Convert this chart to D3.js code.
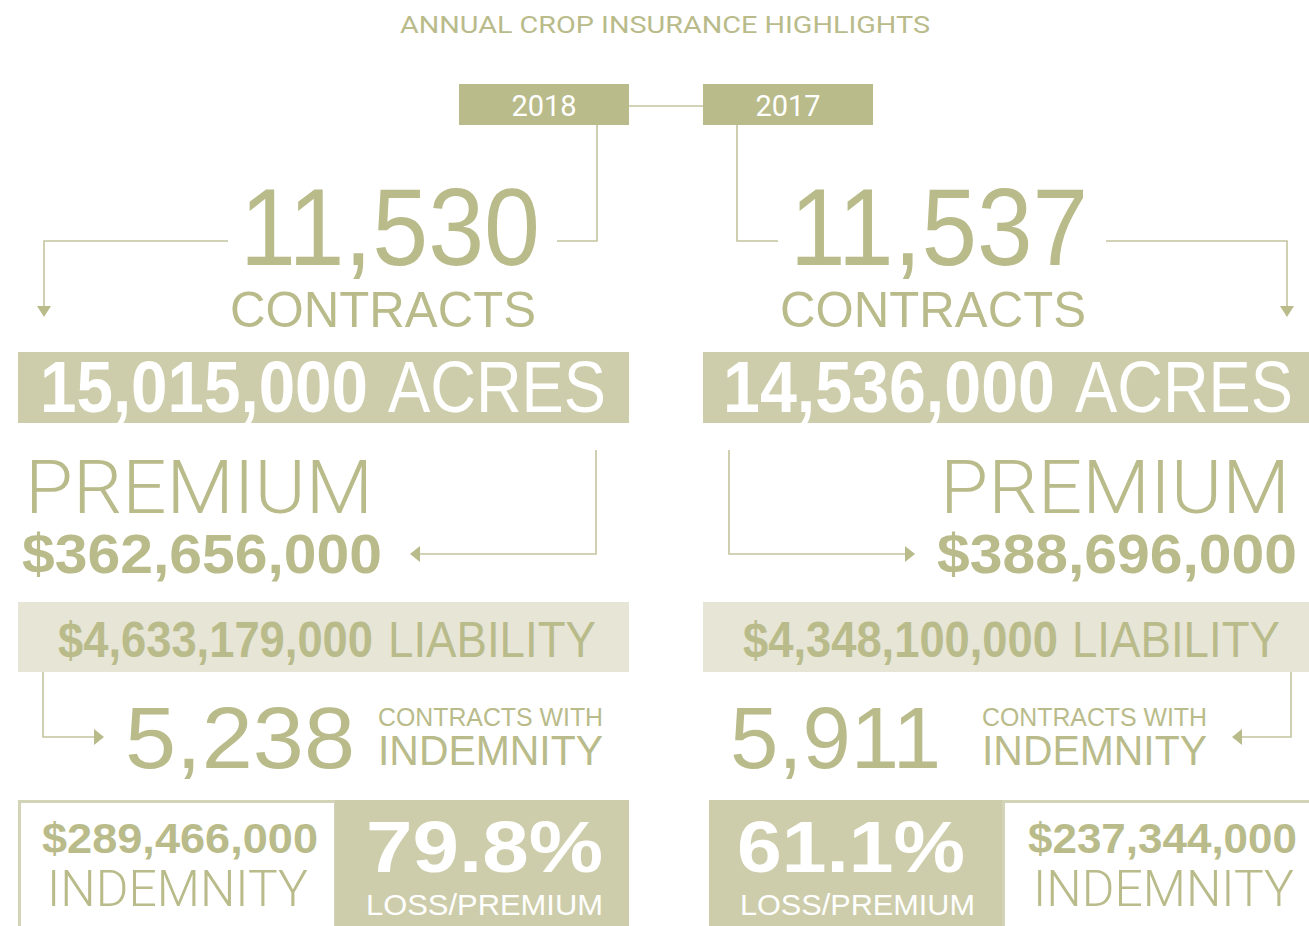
<!DOCTYPE html>
<html>
<head>
<meta charset="utf-8">
<script src="https://cdn.jsdelivr.net/npm/d3@7"></script>
<style>
  body { margin: 0; background: #fff; }
  svg { display: block; }
</style>
</head>
<body>
<div id="chart"></div>
<script>
// data
var title = "ANNUAL CROP INSURANCE HIGHLIGHTS";
var years = ["2018", "2017"];
var contracts = ["11,530", "11,537"];
var acres = ["15,015,000", "14,536,000"];
var premium = ["$362,656,000", "$388,696,000"];
var liability = ["$4,633,179,000", "$4,348,100,000"];
var indemContracts = ["5,238", "5,911"];
var indemnity = ["$289,466,000", "$237,344,000"];
var lossRatio = ["79.8%", "61.1%"];

var W = 1309, H = 926;
var olive = "#b9bb8a", mid = "#cdcdab", pale = "#e6e5d6", line = "#c4c59e";
var narrow = "'Liberation Sans Narrow', 'Liberation Sans', Arial, sans-serif";
var thin = "Roboto, 'Liberation Sans', sans-serif";

var svg = d3.select("#chart").append("svg")
    .attr("width", W)
    .attr("height", H);

// two columns, the right one runs past the page edge
var x = d3.scaleBand().domain(years).range([18, 1314]).paddingInner(0.108);
var bw = x.bandwidth();

function txt(s, o) {
  var t = svg.append("text")
      .attr("x", o.x).attr("y", o.y)
      .attr("font-family", o.family || narrow)
      .attr("font-size", o.size)
      .attr("font-weight", o.weight || 400)
      .attr("fill", o.fill || olive)
      .attr("text-anchor", o.anchor || "start")
      .text(s);
  if (o.len) t.attr("textLength", o.len).attr("lengthAdjust", "spacingAndGlyphs");
  return t;
}

function path(pts) {
  svg.append("path")
      .attr("d", d3.line()(pts))
      .attr("fill", "none")
      .attr("stroke", line)
      .attr("stroke-width", 1.6);
}

function arrow(tx, ty, dir) {
  // dir: "down", "left", "right"
  var p;
  if (dir == "down") p = [[tx - 7, ty - 11], [tx + 7, ty - 11], [tx, ty]];
  else if (dir == "left") p = [[tx + 10, ty - 8], [tx + 10, ty + 8], [tx, ty]];
  else p = [[tx - 10, ty - 8], [tx - 10, ty + 8], [tx, ty]];
  svg.append("path").attr("d", d3.line()(p) + "Z").attr("fill", olive);
}

txt(title, {x: 665, y: 33, size: 24, anchor: "middle", family: "Roboto, 'Liberation Sans', sans-serif", len: 530});

// line between the year tags
path([[629, 106], [703, 106]]);

years.forEach(function(yr, i) {
  var x0 = x(yr), left = i == 0;
  function dx(a, b) { return x0 + (left ? a : b); }

  // year tag
  var yx = dx(441, 0);
  svg.append("rect").attr("x", yx).attr("y", 84).attr("width", 170).attr("height", 41).attr("fill", olive);
  txt(yr, {x: yx + 85, y: 116, size: 29, fill: "#fff", anchor: "middle", family: thin});

  // connectors around the contract count
  path([[dx(579, 34), 125], [dx(579, 34), 241], [dx(539, 75), 241]]);
  path([[dx(210, 403), 241], [dx(26, 584), 241], [dx(26, 584), 306]]);
  arrow(dx(26, 584), 317, "down");

  txt(contracts[i], {x: dx(222, 87), y: 265, size: 110, len: left ? 300 : 298});
  txt("CONTRACTS", {x: dx(212, 77), y: 327, size: 50, len: 306});

  // acres bar
  svg.append("rect").attr("x", x0).attr("y", 352).attr("width", bw).attr("height", 71).attr("fill", mid);
  txt(acres[i], {x: dx(22, 20), y: 412, size: 72, weight: 700, fill: "#fff", len: left ? 328 : 332});
  txt("ACRES", {x: dx(370, 372), y: 412, size: 72, fill: "#fff", len: 218});

  // premium
  txt("PREMIUM", {x: dx(7, 237), y: 513, size: 74, family: thin, weight: 300, len: left ? 348 : 350});
  txt(premium[i], {x: dx(4, 234), y: 573, size: 56, weight: 700, len: 360});
  if (left) {
    path([[dx(578, 0), 450], [dx(578, 0), 554], [418, 554]]);
    arrow(410, 554, "left");
  } else {
    path([[dx(0, 26), 450], [dx(0, 26), 554], [907, 554]]);
    arrow(915, 554, "right");
  }

  // liability bar
  svg.append("rect").attr("x", x0).attr("y", 602).attr("width", bw).attr("height", 70).attr("fill", pale);
  txt(liability[i], {x: dx(40, 40), y: 657, size: 50, weight: 700, len: 315});
  txt("LIABILITY", {x: dx(370, 369), y: 657, size: 50, len: 208});

  // contracts with indemnity
  if (left) {
    path([[43, 672], [43, 737], [95, 737]]);
    arrow(104, 737, "right");
  } else {
    path([[1291, 672], [1291, 737], [1241, 737]]);
    arrow(1232, 737, "left");
  }
  txt(indemContracts[i], {x: dx(107, 27), y: 768, size: 88, len: left ? 230 : 211});
  txt("CONTRACTS WITH", {x: dx(360, 279), y: 726, size: 26, len: 225});
  txt("INDEMNITY", {x: dx(360, 279), y: 765, size: 42, len: 225});

  // bottom boxes
  var ox = left ? 19.5 : 1003.5, lx = left ? 335 : 709;
  svg.append("rect").attr("x", ox).attr("y", 801.5).attr("width", 316).attr("height", 140)
      .attr("fill", "none").attr("stroke", "#d3d3b7").attr("stroke-width", 3);
  svg.append("rect").attr("x", lx).attr("y", 800).attr("width", left ? 294 : 293).attr("height", 126).attr("fill", mid);

  txt(indemnity[i], {x: dx(24, 325), y: 853, size: 42, weight: 700, len: left ? 276 : 269});
  txt("INDEMNITY", {x: dx(29, 330), y: 906, size: 50, family: thin, weight: 300, len: 261});
  txt(lossRatio[i], {x: dx(348, 34), y: 872, size: 72, weight: 700, fill: "#fff", len: left ? 237 : 228});
  txt("LOSS/PREMIUM", {x: dx(348, 37), y: 915, size: 30, fill: "#fff", len: left ? 237 : 235});
});
</script>
</body>
</html>
